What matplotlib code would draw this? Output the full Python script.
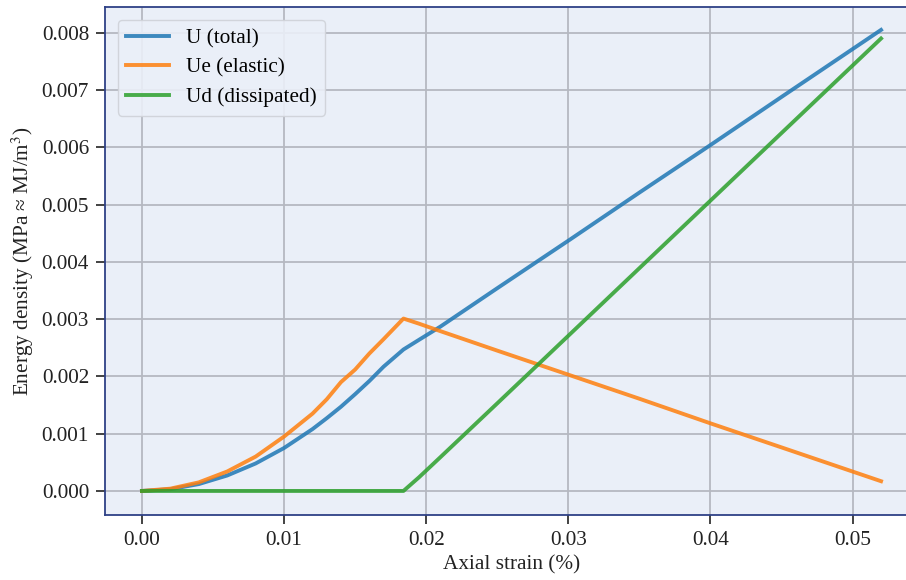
import matplotlib.pyplot as plt

# === Data ===
strain = [0, 0.002, 0.004, 0.006, 0.008, 0.010, 0.012, 0.013, 0.014, 0.015, 0.016, 0.017,
          0.0184, 0.0195, 0.021, 0.025, 0.030, 0.035, 0.040, 0.045, 0.052]
U_total = [0, 0.00003, 0.00012, 0.00027, 0.00048, 0.00075, 0.00108, 0.00127, 0.00147, 0.00169,
           0.00192, 0.00217, 0.00247, 0.00264, 0.00287, 0.00354, 0.00437, 0.00521, 0.00604,
           0.00688, 0.00805]
U_elastic = [0, 0.00004, 0.00015, 0.00034, 0.00060, 0.00095, 0.00135, 0.00160, 0.00190, 0.00212,
             0.00240, 0.00265, 0.00301, 0.00292, 0.00279, 0.00245, 0.00203, 0.00161, 0.00118,
             0.00076, 0.00017]
U_dissip = [0, 0, 0, 0, 0, 0, 0, 0, 0, 0, 0, 0,
            0, 0.00024, 0.00059, 0.00153, 0.00271, 0.00389, 0.00507, 0.00625, 0.00790]

# === Style ===
plt.rcParams['font.family'] = ['Liberation Serif', 'DejaVu Serif']
plt.rcParams['mathtext.fontset'] = 'stix'
fs = 15.3

fig = plt.figure(figsize=(9.06, 5.8), dpi=100)
ax = fig.add_axes([105 / 906, 65 / 580, 813 / 906, 508 / 580])
ax.set_facecolor('#eaeff8')

ax.plot(strain, U_total, color='tab:blue', lw=2.8, alpha=0.85, label='U (total)')
ax.plot(strain, U_elastic, color='tab:orange', lw=2.8, alpha=0.85, label='Ue (elastic)')
ax.plot(strain, U_dissip, color='tab:green', lw=2.8, alpha=0.85, label='Ud (dissipated)')

ax.set_xlim(-0.0026, 0.0546)
ax.set_ylim(-0.00042, 0.00845)
ax.set_xticks([0, 0.01, 0.02, 0.03, 0.04, 0.05])
ax.set_xticklabels(['0.00', '0.01', '0.02', '0.03', '0.04', '0.05'])
ax.set_yticks([i * 0.001 for i in range(9)])
ax.set_yticklabels([f'{i * 0.001:.3f}' for i in range(9)])

ax.grid(True, color='#b5b8c1', lw=1.3)
ax.set_axisbelow(True)
for side in ['left', 'bottom', 'top']:
    ax.spines[side].set_color('#2e4186')
    ax.spines[side].set_linewidth(1.3)
ax.spines['right'].set_visible(False)
ax.tick_params(direction='out', length=6.5, width=1.2, color='#222222', pad=5, labelsize=fs,
               labelcolor='#222222')

ax.set_xlabel('Axial strain (%)', fontsize=fs, labelpad=4, color='#222222')
ax.set_ylabel(r'Energy density (MPa ≈ MJ/m$^3$)', fontsize=fs, labelpad=4, color='#222222')

leg = ax.legend(loc='upper left', fontsize=fs, frameon=True, fancybox=True,
                borderpad=0.4, handlelength=2.0, labelspacing=0.45, borderaxespad=0.6)
leg.get_frame().set_facecolor('#eaeff8')
leg.get_frame().set_edgecolor('#cfd2d8')
leg.get_frame().set_alpha(0.9)

fig.savefig('out.png', dpi=100)
